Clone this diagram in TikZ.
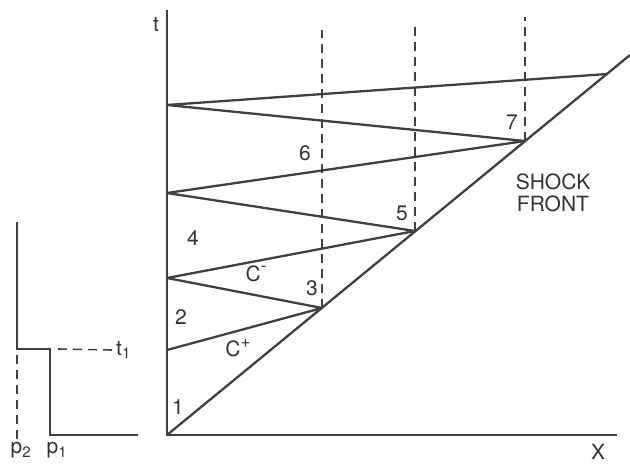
\documentclass[tikz,border=0pt]{standalone}
\usepackage{fontspec}
\setmainfont{TeX Gyre Heros}
\begin{document}
\begin{tikzpicture}[x=1pt,y=-1pt]
    % Define styles
    \tikzstyle{wave} = [line width=2.3pt, draw=black!75, line join=round]
    \tikzstyle{axis} = [line width=2pt, draw=black!75, line join=miter]
    \tikzstyle{guide} = [line width=1.6pt, draw=black!75, dash pattern=on 9pt off 6pt]
    \tikzstyle{lbl} = [font=\fontsize{21}{23}\selectfont, text=black!80, inner sep=0pt]

    \useasboundingbox (0,0) rectangle (630,464);

    % Axes and shock front
    \coordinate (O) at (167,435);
    \coordinate (tTop) at (167,10);
    \coordinate (xEnd) at (617,435);
    \coordinate (sEnd) at (630,55);
    \draw[axis] (tTop) -- (O) -- (xEnd);
    \draw[wave] (O) -- (sEnd);

    % Reflection points on the wall and on the shock front
    \foreach \name/\y in {w1/350,w2/278,w3/193,w4/105}
        \coordinate (\name) at (167,\y);
    \foreach \name/\x/\y in {s3/322/308,s5/415/231,s7/525/141,s9/607/74}
        \coordinate (\name) at (\x,\y);
    \draw[wave] (w1) -- (s3) -- (w2) -- (s5) -- (w3) -- (s7) -- (w4) -- (s9);

    % Dashed guides above the reflections
    \foreach \name/\x/\y in {g3/322/30,g5/415/23,g7/525/17}
        \coordinate (\name) at (\x,\y);
    \draw[guide] (s3) -- (g3);
    \draw[guide] (s5) -- (g5);
    \draw[guide] (s7) -- (g7);

    % Region labels
    \foreach \name/\x/\y/\txt in {r1/178/407/1, r2/181/317/2, r3/312/288/3, r4/193/238/4,
                                  r5/402/213/5, r6/305/153/6, r7/512/122/7}
        \node(\name)[lbl] at (\x,\y) {\txt};
    \node(cplus)[lbl] at (238,348) {C\raisebox{0.45em}{\fontsize{17}{17}\selectfont +}};
    \node(cminus)[lbl] at (256,274) {C\raisebox{0.5em}{\fontsize{17}{17}\selectfont -}};
    \node(shock)[lbl, align=center] at (553,193) {SHOCK\\[-1pt]FRONT};
    \node(xlab)[lbl] at (598,452) {X};
    \node(tlab)[lbl] at (156,25) {t};

    % Pressure profile
    \coordinate (pa) at (17,222);
    \coordinate (pb) at (17,349);
    \coordinate (pc) at (50,349);
    \coordinate (pd) at (50,435);
    \coordinate (pe) at (138,435);
    \draw[axis] (pa) -- (pb) -- (pc) -- (pd) -- (pe);
    \node(t1)[lbl, anchor=west] at (116,350) {t\textsubscript{\fontsize{15}{15}\selectfont 1}};
    \node(p2)[lbl, anchor=north] at (21,442) {p\textsubscript{\fontsize{15}{15}\selectfont 2}};
    \node(p1)[lbl, anchor=north] at (57,442) {p\textsubscript{\fontsize{15}{15}\selectfont 1}};
    \draw[guide] ([xshift=8pt]pc) -- ([xshift=-3pt]t1.west);
    \draw[guide] ([yshift=9pt]pb) -- (pb |- p2.north);
\end{tikzpicture}
\end{document}
